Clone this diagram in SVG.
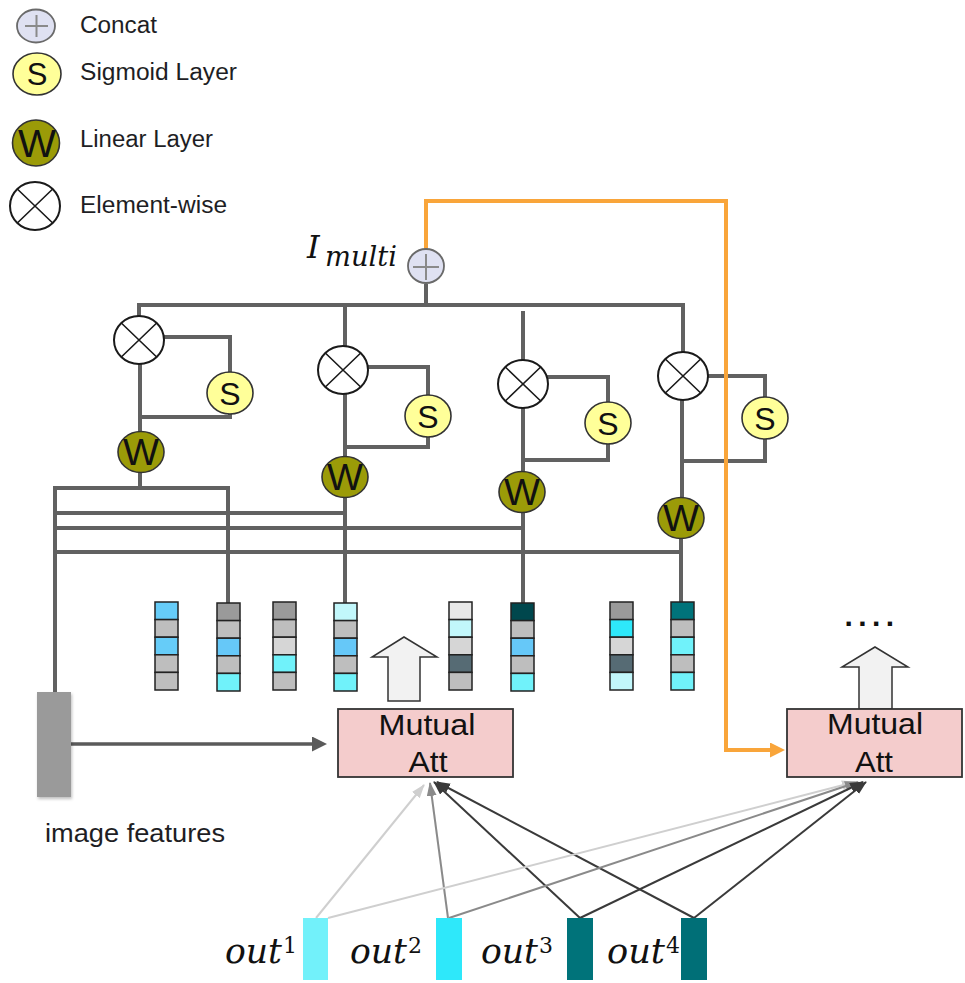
<svg xmlns="http://www.w3.org/2000/svg" width="965" height="983" viewBox="0 0 965 983">
  <defs>
    <style>
      .wire { fill: none; stroke: #616161; stroke-width: 4; stroke-linejoin: miter; }
      .feed { fill: none; stroke: #f9a53a; stroke-width: 4; }
      .fan { fill: none; stroke-width: 2; }
      .mulc { fill: #ffffff; stroke: #1a1a1a; stroke-width: 2; }
      .mulx { fill: none; stroke: #1a1a1a; stroke-width: 1.6; }
      .sig { fill: #ffff99; stroke: #333333; stroke-width: 1.6; }
      .lin { fill: #9b9b08; stroke: #333333; stroke-width: 1.6; }
      .cat { fill: #dfe1f2; stroke: #6a6a6a; stroke-width: 1.8; }
      .catx { fill: none; stroke: #8a8a8a; stroke-width: 2; }
      .glyph { font-family: "Liberation Sans", Arial, sans-serif; fill: #111111; text-anchor: middle; }
      .label { font-family: "Liberation Sans", Arial, sans-serif; fill: #1e1e24; }
      .math { font-family: "DejaVu Serif", "Liberation Serif", serif; font-style: italic; fill: #111111; }
      .sup { font-family: "DejaVu Serif", "Liberation Serif", serif; fill: #111111; }
      .cell { stroke: #222222; stroke-width: 1.5; }
      .box { fill: #f4cccc; stroke: #333333; stroke-width: 1.8; }
      .up { fill: #f2f2f2; stroke: #333333; stroke-width: 1.5; }
    </style>
    <marker id="ahGray" markerUnits="userSpaceOnUse" markerWidth="16" markerHeight="16" refX="1" refY="7.5" orient="auto">
      <path d="M0,0 L15,7.5 L0,15 z" fill="#5a5a5a"/>
    </marker>
    <marker id="ahOrange" markerUnits="userSpaceOnUse" markerWidth="16" markerHeight="16" refX="1" refY="7.5" orient="auto">
      <path d="M0,0 L15,7.5 L0,15 z" fill="#f9a53a"/>
    </marker>
    <marker id="ahLight" markerUnits="userSpaceOnUse" markerWidth="15" markerHeight="11" refX="13" refY="5" orient="auto">
      <path d="M0,0 L14,5 L0,10 z" fill="#cfcfcf"/>
    </marker>
    <marker id="ahMid" markerUnits="userSpaceOnUse" markerWidth="15" markerHeight="11" refX="13" refY="5" orient="auto">
      <path d="M0,0 L14,5 L0,10 z" fill="#8a8a8a"/>
    </marker>
    <marker id="ahDark" markerUnits="userSpaceOnUse" markerWidth="15" markerHeight="11" refX="13" refY="5" orient="auto">
      <path d="M0,0 L14,5 L0,10 z" fill="#3a3a3a"/>
    </marker>
    <filter id="soft" x="-30%" y="-10%" width="160%" height="125%">
      <feDropShadow dx="1" dy="2" stdDeviation="1.5" flood-color="#000000" flood-opacity="0.25"/>
    </filter>
  </defs>

  <rect width="965" height="983" fill="#ffffff"/>

  <!-- legend -->
  <g id="legend">
    <g id="legend-concat">
      <ellipse class="cat" cx="36" cy="26" rx="19" ry="16.5"/>
      <path class="catx" d="M25 26 H48 M36.5 15 V37"/>
      <text class="label" x="80" y="33" font-size="23" textLength="77" lengthAdjust="spacingAndGlyphs">Concat</text>
    </g>
    <g id="legend-sigmoid">
      <ellipse class="sig" cx="37" cy="74" rx="24" ry="21"/>
      <text class="glyph" x="37" y="85" font-size="31">S</text>
      <text class="label" x="80" y="80" font-size="23" textLength="157" lengthAdjust="spacingAndGlyphs">Sigmoid Layer</text>
    </g>
    <g id="legend-linear">
      <ellipse class="lin" cx="36" cy="143" rx="23.5" ry="23"/>
      <text class="glyph" x="37" y="157" font-size="38" textLength="38" lengthAdjust="spacingAndGlyphs">W</text>
      <text class="label" x="80" y="147" font-size="23" textLength="133" lengthAdjust="spacingAndGlyphs">Linear Layer</text>
    </g>
    <g id="legend-elementwise">
      <ellipse class="mulc" cx="35" cy="206" rx="25" ry="24"/>
      <path class="mulx" d="M17.3 189 L52.7 223 M52.7 189 L17.3 223"/>
      <text class="label" x="80" y="213" font-size="23" textLength="147" lengthAdjust="spacingAndGlyphs">Element-wise</text>
    </g>
  </g>

  <!-- connectors -->
  <g id="connectors">
    <!-- top bus from the concat node to the four gates -->
    <path class="wire" d="M139 316 V305 H683 V352"/>
    <path class="wire" d="M426 284 V305"/>
    <path class="wire" d="M345 305 V346"/>
    <path class="wire" d="M523 311 V360"/>

    <!-- branch 1 -->
    <path class="wire" d="M163 337 H230 V372"/>
    <path class="wire" d="M230 414 V417 H140"/>
    <path class="wire" d="M140 364 V432"/>
    <path class="wire" d="M140 472 V488"/>

    <!-- branch 2 -->
    <path class="wire" d="M367 367 H428 V395"/>
    <path class="wire" d="M428 437 V447 H345"/>
    <path class="wire" d="M345 394 V457"/>
    <path class="wire" d="M345 497 V603"/>

    <!-- branch 3 -->
    <path class="wire" d="M547 377 H608 V402"/>
    <path class="wire" d="M608 444 V460 H523"/>
    <path class="wire" d="M523 408 V472"/>
    <path class="wire" d="M523 512 V603"/>

    <!-- branch 4 -->
    <path class="wire" d="M707 376 H765 V397"/>
    <path class="wire" d="M765 439 V461 H682"/>
    <path class="wire" d="M682 400 V498"/>
    <path class="wire" d="M681 538 V603"/>

    <!-- lower buses feeding the image-feature line -->
    <path class="wire" d="M55 692 V488 H228 V603"/>
    <path class="wire" d="M55 513 H345"/>
    <path class="wire" d="M55 528 H523"/>
    <path class="wire" d="M55 552 H681"/>

    <!-- image features into the first attention block -->
    <path d="M71 744 H313" fill="none" stroke="#5a5a5a" stroke-width="3.5" marker-end="url(#ahGray)"/>

    <!-- fused feature fed to the next attention block -->
    <path class="feed" d="M426 249 V201 H726 V750 H771" marker-end="url(#ahOrange)"/>

    <!-- outputs into the first attention block -->
    <path class="fan" stroke="#cfcfcf" d="M316 918 L424 785" marker-end="url(#ahLight)"/>
    <path class="fan" stroke="#8a8a8a" d="M448 918 L430 783" marker-end="url(#ahMid)"/>
    <path class="fan" stroke="#3a3a3a" d="M580 918 L434 782" marker-end="url(#ahDark)"/>
    <path class="fan" stroke="#3a3a3a" d="M694 918 L437 782" marker-end="url(#ahDark)"/>

    <!-- outputs into the second attention block -->
    <path class="fan" stroke="#cfcfcf" d="M328 918 L855 782" marker-end="url(#ahLight)"/>
    <path class="fan" stroke="#8a8a8a" d="M449 918 L858 782" marker-end="url(#ahMid)"/>
    <path class="fan" stroke="#3a3a3a" d="M580 918 L863 782" marker-end="url(#ahDark)"/>
    <path class="fan" stroke="#3a3a3a" d="M694 918 L866 782" marker-end="url(#ahDark)"/>
  </g>

  <!-- concat node -->
  <g id="concat">
    <ellipse class="cat" cx="426" cy="266" rx="18" ry="17"/>
    <path class="catx" d="M413 267 H439 M426 254 V280"/>
    <text class="math" x="307" y="258" font-size="32">I</text>
    <text class="math" x="325" y="266" font-size="28" textLength="72" lengthAdjust="spacingAndGlyphs">multi</text>
  </g>

  <!-- element-wise gates -->
  <g id="mul1">
    <ellipse class="mulc" cx="139" cy="340" rx="25" ry="24"/>
    <path class="mulx" d="M121.3 323 L156.7 357 M156.7 323 L121.3 357"/>
  </g>
  <g id="mul2">
    <ellipse class="mulc" cx="343" cy="370" rx="25" ry="24"/>
    <path class="mulx" d="M325.3 353 L360.7 387 M360.7 353 L325.3 387"/>
  </g>
  <g id="mul3">
    <ellipse class="mulc" cx="523" cy="384" rx="25" ry="24"/>
    <path class="mulx" d="M505.3 367 L540.7 401 M540.7 367 L505.3 401"/>
  </g>
  <g id="mul4">
    <ellipse class="mulc" cx="683" cy="376" rx="25" ry="24"/>
    <path class="mulx" d="M665.3 359 L700.7 393 M700.7 359 L665.3 393"/>
  </g>

  <!-- sigmoid layers -->
  <g id="sig1">
    <ellipse class="sig" cx="230" cy="393" rx="23" ry="21"/>
    <text class="glyph" x="230" y="404.5" font-size="32">S</text>
  </g>
  <g id="sig2">
    <ellipse class="sig" cx="428" cy="416" rx="23" ry="21"/>
    <text class="glyph" x="428" y="427.5" font-size="32">S</text>
  </g>
  <g id="sig3">
    <ellipse class="sig" cx="608" cy="423" rx="23" ry="21"/>
    <text class="glyph" x="608" y="434.5" font-size="32">S</text>
  </g>
  <g id="sig4">
    <ellipse class="sig" cx="765" cy="418" rx="23" ry="21"/>
    <text class="glyph" x="765" y="429.5" font-size="32">S</text>
  </g>

  <!-- linear layers -->
  <g id="lin1">
    <ellipse class="lin" cx="141" cy="452" rx="23" ry="20.5"/>
    <text class="glyph" x="141" y="465" font-size="36" textLength="36" lengthAdjust="spacingAndGlyphs">W</text>
  </g>
  <g id="lin2">
    <ellipse class="lin" cx="345" cy="477" rx="23" ry="20.5"/>
    <text class="glyph" x="345" y="490" font-size="36" textLength="36" lengthAdjust="spacingAndGlyphs">W</text>
  </g>
  <g id="lin3">
    <ellipse class="lin" cx="522" cy="492" rx="23" ry="20.5"/>
    <text class="glyph" x="522" y="505" font-size="36" textLength="36" lengthAdjust="spacingAndGlyphs">W</text>
  </g>
  <g id="lin4">
    <ellipse class="lin" cx="681" cy="518" rx="23" ry="20.5"/>
    <text class="glyph" x="681" y="531" font-size="36" textLength="36" lengthAdjust="spacingAndGlyphs">W</text>
  </g>

  <!-- feature vectors -->
  <g id="vec1">
    <rect class="cell" x="155" y="602" width="23" height="17.6" fill="#66ccf8"/>
    <rect class="cell" x="155" y="619.6" width="23" height="17.6" fill="#bebebe"/>
    <rect class="cell" x="155" y="637.2" width="23" height="17.6" fill="#66ccf8"/>
    <rect class="cell" x="155" y="654.8" width="23" height="17.6" fill="#bebebe"/>
    <rect class="cell" x="155" y="672.4" width="23" height="17.6" fill="#bebebe"/>
  </g>
  <g id="vec2">
    <rect class="cell" x="217" y="603" width="23" height="17.6" fill="#9a9a9a"/>
    <rect class="cell" x="217" y="620.6" width="23" height="17.6" fill="#bebebe"/>
    <rect class="cell" x="217" y="638.2" width="23" height="17.6" fill="#66c8f8"/>
    <rect class="cell" x="217" y="655.8" width="23" height="17.6" fill="#bebebe"/>
    <rect class="cell" x="217" y="673.4" width="23" height="17.6" fill="#70f2fa"/>
  </g>
  <g id="vec3">
    <rect class="cell" x="273" y="602" width="23" height="17.6" fill="#9a9a9a"/>
    <rect class="cell" x="273" y="619.6" width="23" height="17.6" fill="#bebebe"/>
    <rect class="cell" x="273" y="637.2" width="23" height="17.6" fill="#d6d6d6"/>
    <rect class="cell" x="273" y="654.8" width="23" height="17.6" fill="#70f2fa"/>
    <rect class="cell" x="273" y="672.4" width="23" height="17.6" fill="#bebebe"/>
  </g>
  <g id="vec4">
    <rect class="cell" x="334" y="603" width="23" height="17.6" fill="#c2f7fb"/>
    <rect class="cell" x="334" y="620.6" width="23" height="17.6" fill="#bebebe"/>
    <rect class="cell" x="334" y="638.2" width="23" height="17.6" fill="#66c8f8"/>
    <rect class="cell" x="334" y="655.8" width="23" height="17.6" fill="#bebebe"/>
    <rect class="cell" x="334" y="673.4" width="23" height="17.6" fill="#70f2fa"/>
  </g>
  <g id="vec5">
    <rect class="cell" x="449" y="602" width="23" height="17.6" fill="#e8e8e8"/>
    <rect class="cell" x="449" y="619.6" width="23" height="17.6" fill="#c2f7fb"/>
    <rect class="cell" x="449" y="637.2" width="23" height="17.6" fill="#d6d6d6"/>
    <rect class="cell" x="449" y="654.8" width="23" height="17.6" fill="#566b74"/>
    <rect class="cell" x="449" y="672.4" width="23" height="17.6" fill="#bebebe"/>
  </g>
  <g id="vec6">
    <rect class="cell" x="511" y="603" width="23" height="17.6" fill="#00474d"/>
    <rect class="cell" x="511" y="620.6" width="23" height="17.6" fill="#bebebe"/>
    <rect class="cell" x="511" y="638.2" width="23" height="17.6" fill="#66c8f8"/>
    <rect class="cell" x="511" y="655.8" width="23" height="17.6" fill="#bebebe"/>
    <rect class="cell" x="511" y="673.4" width="23" height="17.6" fill="#70f2fa"/>
  </g>
  <g id="vec7">
    <rect class="cell" x="610" y="602" width="23" height="17.6" fill="#9a9a9a"/>
    <rect class="cell" x="610" y="619.6" width="23" height="17.6" fill="#2ee8fa"/>
    <rect class="cell" x="610" y="637.2" width="23" height="17.6" fill="#d6d6d6"/>
    <rect class="cell" x="610" y="654.8" width="23" height="17.6" fill="#566b74"/>
    <rect class="cell" x="610" y="672.4" width="23" height="17.6" fill="#c2f7fb"/>
  </g>
  <g id="vec8">
    <rect class="cell" x="671" y="602" width="23" height="17.6" fill="#00737a"/>
    <rect class="cell" x="671" y="619.6" width="23" height="17.6" fill="#bebebe"/>
    <rect class="cell" x="671" y="637.2" width="23" height="17.6" fill="#70f2fa"/>
    <rect class="cell" x="671" y="654.8" width="23" height="17.6" fill="#bebebe"/>
    <rect class="cell" x="671" y="672.4" width="23" height="17.6" fill="#70f2fa"/>
  </g>

  <!-- image features -->
  <g id="image-features">
    <rect x="37" y="692" width="34" height="105" fill="#9a9a9a" filter="url(#soft)"/>
    <text class="label" x="45" y="842" font-size="25" textLength="180" lengthAdjust="spacingAndGlyphs">image features</text>
  </g>

  <!-- attention block 1 -->
  <g id="att1">
    <polygon class="up" points="404,637 437,657 420,657 420,701 388,701 388,657 372,657"/>
    <rect class="box" x="338" y="709" width="175" height="68"/>
    <text class="glyph" x="427" y="735" font-size="30" textLength="97" lengthAdjust="spacingAndGlyphs">Mutual</text>
    <text class="glyph" x="428" y="772" font-size="30" textLength="39" lengthAdjust="spacingAndGlyphs">Att</text>
  </g>

  <!-- attention block 2 -->
  <g id="att2">
    <text class="glyph" x="872" y="626" font-size="30" font-weight="bold" letter-spacing="5.4">....</text>
    <polygon class="up" points="875,647 908,667 892,667 892,709 859,709 859,667 842,667"/>
    <rect class="box" x="787" y="709" width="175" height="68"/>
    <text class="glyph" x="875" y="734" font-size="30" textLength="96" lengthAdjust="spacingAndGlyphs">Mutual</text>
    <text class="glyph" x="874" y="772" font-size="30" textLength="38" lengthAdjust="spacingAndGlyphs">Att</text>
  </g>

  <!-- decoder outputs -->
  <g id="out1">
    <rect x="303" y="918" width="25" height="62" fill="#72f1fa"/>
    <text class="math" x="225" y="963" font-size="36" textLength="57" lengthAdjust="spacingAndGlyphs">out</text>
    <text class="sup" x="283" y="953" font-size="22">1</text>
  </g>
  <g id="out2">
    <rect x="436" y="918" width="26" height="62" fill="#2ee8fa"/>
    <text class="math" x="350" y="963" font-size="36" textLength="57" lengthAdjust="spacingAndGlyphs">out</text>
    <text class="sup" x="408" y="953" font-size="22">2</text>
  </g>
  <g id="out3">
    <rect x="567" y="918" width="26" height="62" fill="#00737a"/>
    <text class="math" x="481" y="963" font-size="36" textLength="57" lengthAdjust="spacingAndGlyphs">out</text>
    <text class="sup" x="539" y="953" font-size="22">3</text>
  </g>
  <g id="out4">
    <rect x="681" y="918" width="26" height="62" fill="#006f77"/>
    <text class="math" x="607" y="963" font-size="36" textLength="58" lengthAdjust="spacingAndGlyphs">out</text>
    <text class="sup" x="666" y="953" font-size="22">4</text>
  </g>
</svg>
